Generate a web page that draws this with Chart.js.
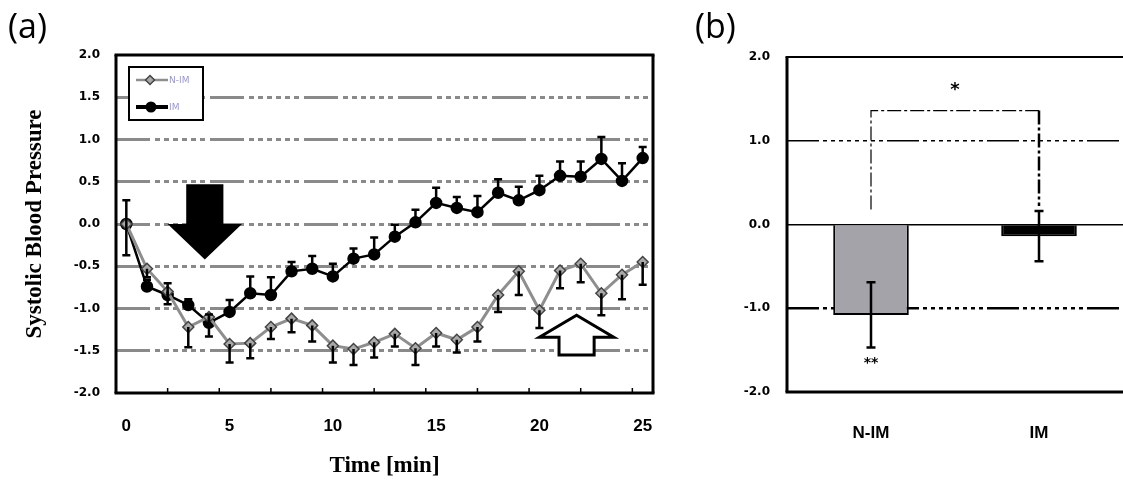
<!DOCTYPE html>
<html>
<head>
<meta charset="utf-8">
<script src="https://cdn.jsdelivr.net/npm/chart.js@4.4.1/dist/chart.umd.min.js"></script>
<style>
  body { margin: 0; background: #fff; width: 1123px; height: 483px; overflow: hidden; position: relative; }
  .panel { position: absolute; top: 0; }
  #panelA { left: 0; width: 680px; height: 483px; }
  #panelB { left: 680px; width: 443px; height: 483px; }
  .tag { position: absolute; font-family: "Open Sans", sans-serif; font-size: 34px; line-height: 1; color: #000; z-index: 2; }
</style>
</head>
<body>
<div class="panel" id="panelA"><canvas id="chartA" width="680" height="483"></canvas></div>
<div class="panel" id="panelB"><canvas id="chartB" width="443" height="483"></canvas></div>
<div class="tag" style="left:8px; top:8px">(a)</div>
<div class="tag" style="left:695px; top:8px">(b)</div>
<script>
// ---- panel (a): time course ----
const minutes = [0, 1, 2, 3, 4, 5, 6, 7, 8, 9, 10, 11, 12, 13, 14, 15, 16, 17, 18, 19, 20, 21, 22, 23, 24, 25];
const nimMean = [0, -0.53, -0.80, -1.22, -1.10, -1.42, -1.41, -1.22, -1.12, -1.20, -1.44, -1.48, -1.40, -1.30, -1.47, -1.29, -1.37, -1.22, -0.84, -0.56, -1.02, -0.55, -0.47, -0.82, -0.60, -0.45];
const nimErr  = [0.37, 0.10, 0.15, 0.24, 0.23, 0.22, 0.18, 0.14, 0.16, 0.19, 0.20, 0.19, 0.18, 0.15, 0.20, 0.16, 0.15, 0.17, 0.20, 0.28, 0.21, 0.21, 0.22, 0.26, 0.29, 0.27];
const imMean  = [0, -0.74, -0.84, -0.96, -1.17, -1.04, -0.82, -0.84, -0.56, -0.53, -0.62, -0.41, -0.36, -0.15, 0.02, 0.25, 0.19, 0.14, 0.37, 0.28, 0.40, 0.57, 0.56, 0.77, 0.51, 0.78];
const imErr   = [0.28, 0.08, 0.14, 0.07, 0.10, 0.14, 0.20, 0.21, 0.11, 0.15, 0.15, 0.12, 0.20, 0.14, 0.15, 0.18, 0.13, 0.19, 0.16, 0.16, 0.17, 0.17, 0.18, 0.26, 0.21, 0.13];
const xTickValues = [0, 5, 10, 15, 20, 25];
const xMarkStart = -0.5, xMarkStep = 2.5;

// ---- panel (b): mean change ----
const barLabels = ['N-IM', 'IM'];
const barMeans = [-1.08, -0.14];
const barErrs = [0.39, 0.30];
const barColors = ['#a4a3a9', '#000000'];
const bracketTop = 1.36;
const bracketFeet = [0.18, 0.22];

// arrows in data units (minutes, value)
const downArrow = { x: 3.8, top: 0.47, neck: 0.0, tip: -0.42, shaft: 0.9, head: 1.8 };
const upArrow = { x: 21.8, bottom: -1.55, neck: -1.34, tip: -1.08, shaft: 0.85, head: 1.8 };

const GRID_DASH_A = [34, 5, 5, 4, 5, 4, 5, 4, 5, 4, 5, 4, 5, 5];
const GRID_DASH_B = [32, 4, 4, 4, 4, 4, 4, 4, 4, 4, 4, 4, 4, 4, 4, 4, 4, 4];

const tickFont = { family: '"DejaVu Sans", sans-serif', size: 12, weight: 'bold' };
const catFont = { family: '"Liberation Sans Narrow", "Liberation Sans", sans-serif', size: 17, weight: 'bold' };
const titleFont = { family: '"Liberation Serif", serif', size: 23, weight: 'bold' };

Chart.defaults.color = '#000';

const frame = {
  id: 'frame',
  afterDraw(chart, args, opts) {
    const { ctx, chartArea: a } = chart;
    ctx.save();
    ctx.strokeStyle = '#000';
    const side = (w, x1, y1, x2, y2) => {
      if (!w) return;
      ctx.lineWidth = w;
      ctx.beginPath(); ctx.moveTo(x1, y1); ctx.lineTo(x2, y2); ctx.stroke();
    };
    side(opts.top, a.left - 1.5, a.top, a.right + 1.5, a.top);
    side(opts.bottom, a.left - 1.5, a.bottom, a.right + 1.5, a.bottom);
    side(opts.left, a.left, a.top, a.left, a.bottom);
    side(opts.right, a.right, a.top, a.right, a.bottom);
    if (opts.marks) {
      const xs = chart.scales.x;
      ctx.lineWidth = 1.5;
      for (let v = xMarkStart + xMarkStep; v < xs.max; v += xMarkStep) {
        const px = xs.getPixelForValue(v);
        ctx.beginPath(); ctx.moveTo(px, a.bottom); ctx.lineTo(px, a.bottom - 5); ctx.stroke();
      }
    }
    ctx.restore();
  }
};

const errorBars = {
  id: 'errorBars',
  afterDatasetsDraw(chart) {
    const ctx = chart.ctx;
    chart.data.datasets.forEach((ds, i) => {
      if (!ds.errors) return;
      const meta = chart.getDatasetMeta(i);
      const yScale = chart.scales[meta.yAxisID];
      meta.data.forEach((el, j) => {
        const raw = ds.data[j];
        const v = typeof raw === 'object' ? raw.y : raw;
        const e = ds.errors[j];
        const hi = ds.errorDir === 'down' ? v : v + e;
        const lo = ds.errorDir === 'up' ? v : v - e;
        const y1 = yScale.getPixelForValue(hi);
        const y2 = yScale.getPixelForValue(lo);
        const cap = ds.errorCap || 4;
        ctx.save();
        ctx.strokeStyle = '#000';
        ctx.lineWidth = ds.errorWidth || 2.5;
        ctx.beginPath();
        ctx.moveTo(el.x, y1); ctx.lineTo(el.x, y2);
        if (ds.errorDir !== 'down') { ctx.moveTo(el.x - cap, y1); ctx.lineTo(el.x + cap, y1); }
        if (ds.errorDir !== 'up') { ctx.moveTo(el.x - cap, y2); ctx.lineTo(el.x + cap, y2); }
        ctx.stroke();
        ctx.restore();
      });
    });
  }
};

const arrows = {
  id: 'arrows',
  beforeDatasetsDraw(chart) {
    const { ctx, scales: { x, y } } = chart;
    const X = v => x.getPixelForValue(v), Y = v => y.getPixelForValue(v);
    ctx.save();
    // filled down arrow
    const d = downArrow;
    ctx.fillStyle = '#000';
    ctx.beginPath();
    ctx.moveTo(X(d.x - d.shaft), Y(d.top));
    ctx.lineTo(X(d.x + d.shaft), Y(d.top));
    ctx.lineTo(X(d.x + d.shaft), Y(d.neck));
    ctx.lineTo(X(d.x + d.head), Y(d.neck));
    ctx.lineTo(X(d.x), Y(d.tip));
    ctx.lineTo(X(d.x - d.head), Y(d.neck));
    ctx.lineTo(X(d.x - d.shaft), Y(d.neck));
    ctx.closePath();
    ctx.fill();
    // outlined up arrow
    const u = upArrow;
    ctx.fillStyle = '#fff';
    ctx.strokeStyle = '#000';
    ctx.lineWidth = 3;
    ctx.lineJoin = 'miter';
    ctx.beginPath();
    ctx.moveTo(X(u.x - u.shaft), Y(u.bottom));
    ctx.lineTo(X(u.x + u.shaft), Y(u.bottom));
    ctx.lineTo(X(u.x + u.shaft), Y(u.neck));
    ctx.lineTo(X(u.x + u.head), Y(u.neck));
    ctx.lineTo(X(u.x), Y(u.tip));
    ctx.lineTo(X(u.x - u.head), Y(u.neck));
    ctx.lineTo(X(u.x - u.shaft), Y(u.neck));
    ctx.closePath();
    ctx.fill();
    ctx.stroke();
    ctx.restore();
  }
};

const legendBox = {
  id: 'legendBox',
  afterDraw(chart) {
    const { ctx, chartArea: a } = chart;
    const bx = a.left + 13, by = a.top + 12, bw = 74, bh = 53;
    ctx.save();
    ctx.fillStyle = '#fff';
    ctx.fillRect(bx, by, bw, bh);
    ctx.strokeStyle = '#000';
    ctx.lineWidth = 2;
    ctx.strokeRect(bx, by, bw, bh);
    chart.data.datasets.forEach((ds, i) => {
      const ly = by + 13 + i * 27;
      ctx.strokeStyle = ds.borderColor;
      ctx.lineWidth = i === 0 ? 2.5 : 4;
      ctx.beginPath(); ctx.moveTo(bx + 7, ly); ctx.lineTo(bx + 39, ly); ctx.stroke();
      ctx.fillStyle = ds.pointBackgroundColor;
      ctx.strokeStyle = ds.pointBorderColor;
      ctx.lineWidth = 1.5;
      if (ds.pointStyle === 'rectRot') {
        ctx.beginPath();
        ctx.moveTo(bx + 21, ly - 4.5); ctx.lineTo(bx + 25.5, ly);
        ctx.lineTo(bx + 21, ly + 4.5); ctx.lineTo(bx + 16.5, ly);
        ctx.closePath(); ctx.fill(); ctx.stroke();
      } else {
        ctx.beginPath(); ctx.arc(bx + 22, ly, 5.5, 0, Math.PI * 2); ctx.fill();
      }
      ctx.fillStyle = '#9a98c8';
      ctx.font = '9px "DejaVu Sans", sans-serif';
      ctx.textBaseline = 'middle';
      ctx.fillText(ds.label, bx + 40, ly + 1);
    });
    ctx.restore();
  }
};

const bracket = {
  id: 'bracket',
  afterDatasetsDraw(chart) {
    const { ctx, scales: { x, y } } = chart;
    const x0 = x.getPixelForValue(0), x1 = x.getPixelForValue(1);
    const yt = y.getPixelForValue(bracketTop);
    ctx.save();
    ctx.strokeStyle = '#000';
    ctx.setLineDash([14, 3, 3, 3]);
    ctx.lineWidth = 1.2;
    ctx.beginPath(); ctx.moveTo(x0, y.getPixelForValue(bracketFeet[0])); ctx.lineTo(x0, yt); ctx.lineTo(x1, yt); ctx.stroke();
    ctx.lineWidth = 2.5;
    ctx.beginPath(); ctx.moveTo(x1, yt); ctx.lineTo(x1, y.getPixelForValue(bracketFeet[1])); ctx.stroke();
    ctx.setLineDash([]);
    ctx.fillStyle = '#000';
    ctx.textAlign = 'center';
    ctx.textBaseline = 'middle';
    ctx.font = 'bold 18px "DejaVu Sans", sans-serif';
    ctx.fillText('*', (x0 + x1) / 2, y.getPixelForValue(1.6));
    ctx.font = 'bold 14px "DejaVu Sans", sans-serif';
    ctx.fillText('**', x0, y.getPixelForValue(-1.66));
    ctx.restore();
  }
};

new Chart(document.getElementById('chartA'), {
  type: 'line',
  data: {
    datasets: [
      {
        label: 'N-IM',
        data: minutes.map((m, i) => ({ x: m, y: nimMean[i] })),
        errors: nimErr, errorDir: 'down',
        borderColor: '#8e8e8e', borderWidth: 3,
        pointStyle: 'rectRot', pointRadius: 5.5,
        pointBackgroundColor: '#a9a9a9', pointBorderColor: '#444', pointBorderWidth: 1.5
      },
      {
        label: 'IM',
        data: minutes.map((m, i) => ({ x: m, y: imMean[i] })),
        errors: imErr, errorDir: 'up',
        borderColor: '#000', borderWidth: 2.5,
        pointStyle: 'circle', pointRadius: 5,
        pointBackgroundColor: '#000', pointBorderColor: '#000'
      }
    ]
  },
  options: {
    responsive: false,
    animation: false,
    devicePixelRatio: 1,
    layout: { padding: { top: 55, right: 27, left: 0, bottom: 0 } },
    plugins: {
      legend: { display: false },
      tooltip: { enabled: false },
      frame: { top: 3, bottom: 3, left: 3, right: 3, marks: true }
    },
    scales: {
      x: {
        type: 'linear', min: -0.5, max: 25.5,
        afterBuildTicks: s => { s.ticks = xTickValues.map(v => ({ value: v })); },
        afterFit: s => { s.height = 90; },
        grid: { display: false },
        border: { display: false },
        ticks: { font: catFont, padding: 15, maxRotation: 0, autoSkip: false },
        title: { display: true, text: 'Time [min]', font: titleFont, padding: { top: 0, bottom: 3 } }
      },
      y: {
        min: -2, max: 2,
        afterFit: s => { s.width = 116; },
        ticks: { stepSize: 0.5, callback: v => v.toFixed(1), font: tickFont, padding: 16 },
        grid: {
          color: c => Math.abs(c.tick.value) >= 2 ? 'rgba(0,0,0,0)' : '#8a8a8a',
          lineWidth: 3, drawTicks: false
        },
        border: { display: false, dash: GRID_DASH_A },
        title: { display: true, text: 'Systolic Blood Pressure', font: titleFont, padding: { top: 21, bottom: 0 } }
      }
    }
  },
  plugins: [arrows, errorBars, frame, legendBox]
});

new Chart(document.getElementById('chartB'), {
  type: 'bar',
  data: {
    labels: barLabels,
    datasets: [{
      data: barMeans,
      errors: barErrs, errorDir: 'both', errorCap: 4.5, errorWidth: 2.5,
      backgroundColor: barColors,
      borderColor: '#000', borderWidth: 2,
      barPercentage: 0.45, categoryPercentage: 1
    }]
  },
  options: {
    responsive: false,
    animation: false,
    devicePixelRatio: 1,
    layout: { padding: { top: 57, right: 0, left: 0, bottom: 0 } },
    plugins: {
      legend: { display: false },
      tooltip: { enabled: false },
      frame: { top: 2, bottom: 3, left: 3, right: 0 }
    },
    scales: {
      x: {
        afterFit: s => { s.height = 91; },
        grid: { display: false },
        border: { display: false },
        ticks: { font: catFont, padding: 23 }
      },
      y: {
        min: -2, max: 2,
        afterFit: s => { s.width = 107; },
        ticks: { stepSize: 1, callback: v => v.toFixed(1), font: tickFont, padding: 17 },
        grid: {
          color: c => Math.abs(c.tick.value) >= 2 ? 'rgba(0,0,0,0)' : '#000',
          lineWidth: c => c.tick.value === -1 ? 2.5 : 1.5,
          drawTicks: false
        },
        border: { display: false, dash: c => c.tick && c.tick.value === 0 ? [] : GRID_DASH_B }
      }
    }
  },
  plugins: [bracket, errorBars, frame]
});
</script>
</body>
</html>
